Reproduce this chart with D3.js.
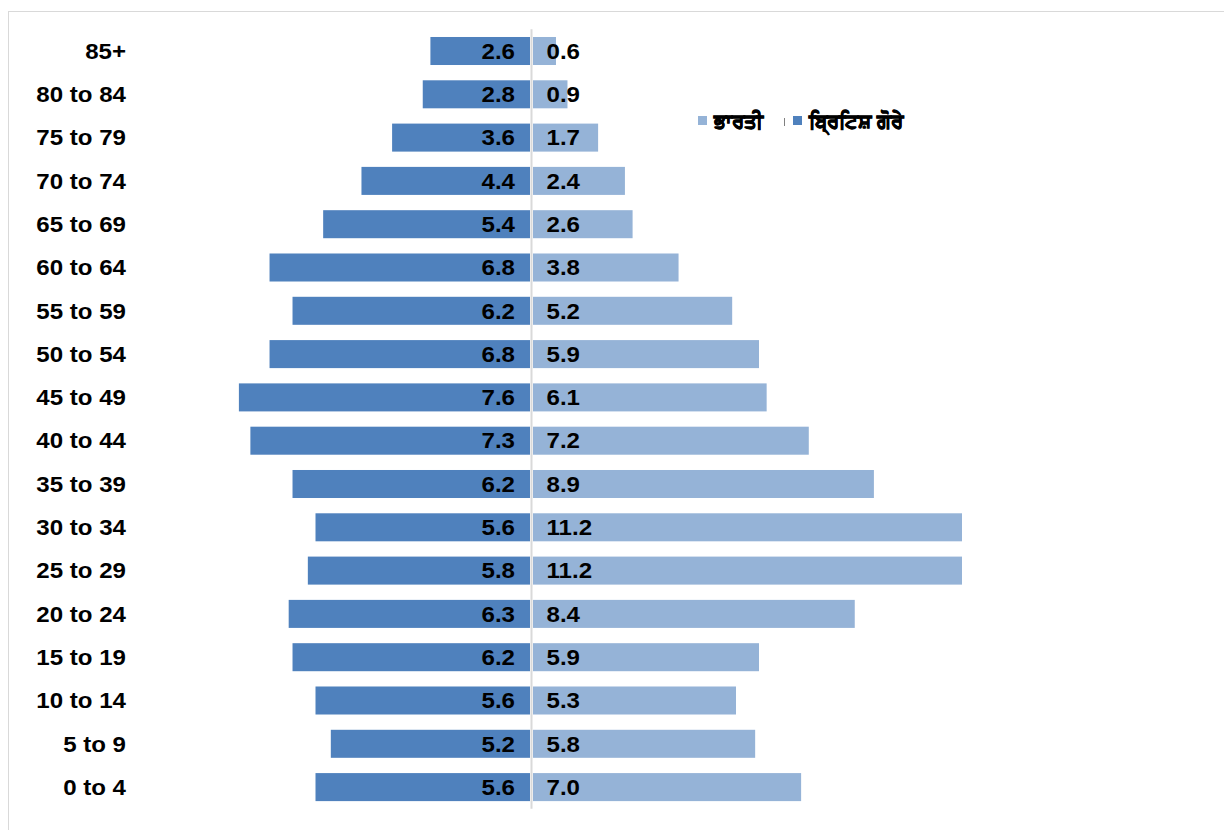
<!DOCTYPE html>
<html>
<head>
<meta charset="utf-8">
<script src="https://cdn.jsdelivr.net/npm/d3@7"></script>
<style>
  html, body { margin: 0; padding: 0; background: #fff; }
  svg { display: block; }
</style>
</head>
<body>
<script>
// Age groups, top of the pyramid first
const ageGroups = ["85+", "80 to 84", "75 to 79", "70 to 74", "65 to 69", "60 to 64",
  "55 to 59", "50 to 54", "45 to 49", "40 to 44", "35 to 39", "30 to 34",
  "25 to 29", "20 to 24", "15 to 19", "10 to 14", "5 to 9", "0 to 4"];

// Share of each population (%) by age group
const britishWhite = [2.6, 2.8, 3.6, 4.4, 5.4, 6.8, 6.2, 6.8, 7.6, 7.3, 6.2, 5.6, 5.8, 6.3, 6.2, 5.6, 5.2, 5.6];
const indian = [0.6, 0.9, 1.7, 2.4, 2.6, 3.8, 5.2, 5.9, 6.1, 7.2, 8.9, 11.2, 11.2, 8.4, 5.9, 5.3, 5.8, 7.0];

const seriesNames = ["ਭਾਰਤੀ", "ਬ੍ਰਿਟਿਸ਼ ਗੋਰੇ"];
const seriesColors = ["#95B3D7", "#4F81BD"];

const W = 1224, H = 830;
const centerX = 531;
const font = "'Liberation Sans', Arial, sans-serif";
const fontSize = 21.5;
const stretch = "scale(1.12,1)";   // slightly wide lettering

const svg = d3.select("body").append("svg")
  .attr("width", W).attr("height", H);

// chart frame
svg.append("rect")
  .attr("x", 8.5).attr("y", 11.5)
  .attr("width", W).attr("height", H)
  .attr("fill", "#fff")
  .attr("stroke", "#d9d9d9").attr("stroke-width", 1);

const y = d3.scaleBand()
  .domain(ageGroups)
  .range([29.35, 808.75])
  .paddingInner(0.353)
  .paddingOuter(0.1765);

// same px-per-percent on both sides
const pxSpan = 962 - (centerX + 2);
const xRight = d3.scaleLinear().domain([0, 11.2]).range([centerX + 2, centerX + 2 + pxSpan]);
const xLeft = d3.scaleLinear().domain([0, 11.2]).range([centerX - 1, centerX - 1 - pxSpan]);

// left side: British white
svg.append("g").selectAll("rect")
  .data(ageGroups)
  .join("rect")
  .attr("x", (d, i) => xLeft(britishWhite[i]))
  .attr("y", d => y(d))
  .attr("width", (d, i) => xLeft(0) - xLeft(britishWhite[i]))
  .attr("height", y.bandwidth())
  .attr("fill", seriesColors[1]);

// right side: Indian
svg.append("g").selectAll("rect")
  .data(ageGroups)
  .join("rect")
  .attr("x", xRight(0))
  .attr("y", d => y(d))
  .attr("width", (d, i) => xRight(indian[i]) - xRight(0))
  .attr("height", y.bandwidth())
  .attr("fill", seriesColors[0]);

// vertical category axis line
svg.append("line")
  .attr("x1", centerX + 0.5).attr("x2", centerX + 0.5)
  .attr("y1", y.range()[0]).attr("y2", y.range()[1])
  .attr("stroke", "#d9d9d9").attr("stroke-width", 2);

// category labels
const yAxis = d3.axisLeft(y).tickSize(0).tickPadding(0);
const axisG = svg.append("g")
  .attr("transform", "translate(126,0)")
  .call(yAxis);
axisG.select(".domain").remove();
axisG.selectAll("text")
  .attr("x", 0)
  .attr("font-family", font)
  .attr("font-size", fontSize)
  .attr("font-weight", "bold")
  .attr("fill", "#000")
  .attr("dy", "0.36em")
  .attr("transform", stretch);

// value labels either side of the centre line
const labelStyle = sel => sel
  .attr("font-family", font)
  .attr("font-size", fontSize)
  .attr("font-weight", "bold")
  .attr("fill", "#000")
  .attr("dy", "0.36em");

svg.append("g").selectAll("text")
  .data(ageGroups)
  .join("text")
  .attr("transform", d => `translate(${xLeft(0) - 15},${y(d) + y.bandwidth() / 2}) ${stretch}`)
  .attr("text-anchor", "end")
  .text((d, i) => britishWhite[i].toFixed(1))
  .call(labelStyle);

svg.append("g").selectAll("text")
  .data(ageGroups)
  .join("text")
  .attr("transform", d => `translate(${xRight(0) + 13.5},${y(d) + y.bandwidth() / 2}) ${stretch}`)
  .attr("text-anchor", "start")
  .text((d, i) => indian[i].toFixed(1))
  .call(labelStyle);

// legend
const legendItems = [
  { name: seriesNames[0], color: seriesColors[0], x: 698 },
  { name: seriesNames[1], color: seriesColors[1], x: 793 }
];
const legend = svg.append("g").selectAll("g")
  .data(legendItems)
  .join("g")
  .attr("transform", d => `translate(${d.x},116)`);
legend.append("rect")
  .attr("width", 9).attr("height", 9)
  .attr("fill", d => d.color);
legend.append("text")
  .attr("x", 16).attr("y", 4.5)
  .attr("dy", "0.36em")
  .attr("font-family", font)
  .attr("font-size", 20)
  .attr("font-weight", "bold")
  .attr("fill", "#000")
  .attr("stroke", "#000")
  .attr("stroke-width", 0.7)
  .text(d => d.name);

// small separator between legend entries
svg.append("line")
  .attr("x1", 784.5).attr("x2", 784.5)
  .attr("y1", 118).attr("y2", 126)
  .attr("stroke", "#808080").attr("stroke-width", 1);
</script>
</body>
</html>
